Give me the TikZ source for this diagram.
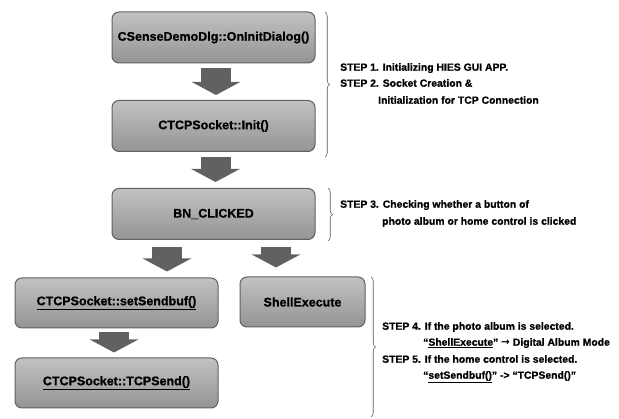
\documentclass[tikz,border=0pt]{standalone}
\usepackage{fontspec}
\setmainfont{Liberation Sans}[BoldFeatures={FakeBold=0.8}]
\newfontfamily\arrfont{DejaVu Sans}
\usetikzlibrary{arrows.meta,decorations.pathreplacing,calc}
\begin{document}
\begin{tikzpicture}[x=1pt,y=-1pt,
  box/.style={draw=black!62,line width=1pt,rounded corners=7pt,
    top color=black!24,bottom color=black!42,
    minimum height=51pt,inner sep=0pt,
    font=\bfseries\fontsize{12.5}{14}\selectfont},
  barrow/.style={draw=black!62,line width=30pt,-{Triangle[width=48pt,length=13pt]}},
  steptext/.style={anchor=west,inner sep=0pt,
    font=\bfseries\fontsize{10.4}{12}\selectfont,text height=7.5pt,text depth=2pt},
  bracestyle/.style={decorate,decoration={brace,amplitude=4.5pt},draw=black!65,line width=0.6pt}]
\useasboundingbox (0,0) rectangle (619,419);

% boxes
\node[box,minimum width=203pt] (b1) at (213.5,37.5) {CSenseDemoDlg::OnInitDialog()};
\node[box,minimum width=203pt] (b2) at (213.5,126) {CTCPSocket::Init()};
\node[box,minimum width=203pt] (b3) at (213.5,214) {BN\_CLICKED};
\node[box,minimum width=203pt,minimum height=50pt] (b4) at (116.5,303) {\underline{CTCPSocket::setSendbuf()}};
\node[box,minimum width=125pt,minimum height=50pt] (b5) at (302.5,302) {ShellExecute};
\node[box,minimum width=203pt,minimum height=50pt] (b6) at (116.5,383) {\underline{CTCPSocket::TCPSend()}};

% block arrows
\draw[barrow,shorten <=5pt,shorten >=5pt] ([xshift=2.5pt]b1.south) -- ([xshift=2.5pt]b2.north);
\draw[barrow,shorten <=5pt,shorten >=6pt] ([xshift=2pt]b2.south) -- ([xshift=2pt]b3.north);
\draw[barrow,shorten <=7pt,shorten >=6pt] ([xshift=-46.5pt]b3.south) -- ([xshift=50.5pt]b4.north);
\draw[barrow,shorten <=7pt,shorten >=9pt] ([xshift=62.5pt]b3.south) -- ([xshift=-26.5pt]b5.north);
\draw[barrow,shorten <=4pt,shorten >=5pt] ([xshift=-2.5pt]b4.south) -- ([xshift=-2.5pt]b6.north);

% braces
\draw[bracestyle] (325,12) -- (325,157);
\draw[bracestyle] (328,188) -- (328,241);
\draw[bracestyle] (371,277) -- (371,417);

% step texts
\node[steptext] (s1) at (340,68) {STEP 1. Initializing HIES GUI APP.};
\node[steptext] (s2) at (340,84) {STEP 2. Socket Creation \&};
\node[steptext] (s2b) at (378,101) {Initialization for TCP Connection};
\node[steptext] (s3) at (340,205) {STEP 3. Checking whether a button of};
\node[steptext] (s3b) at (382,222) {photo album or home control is clicked};
\node[steptext] (s4) at (382,327) {STEP 4. If the photo album is selected.};
\node[steptext] (s4b) at (423,343) {“\underline{ShellExecute}” {\arrfont\bfseries →} Digital Album Mode};
\node[steptext] (s5) at (382,360) {STEP 5. If the home control is selected.};
\node[steptext] (s5b) at (423,376) {“\underline{setSendbuf()}” -> “TCPSend()”};
\end{tikzpicture}
\end{document}
